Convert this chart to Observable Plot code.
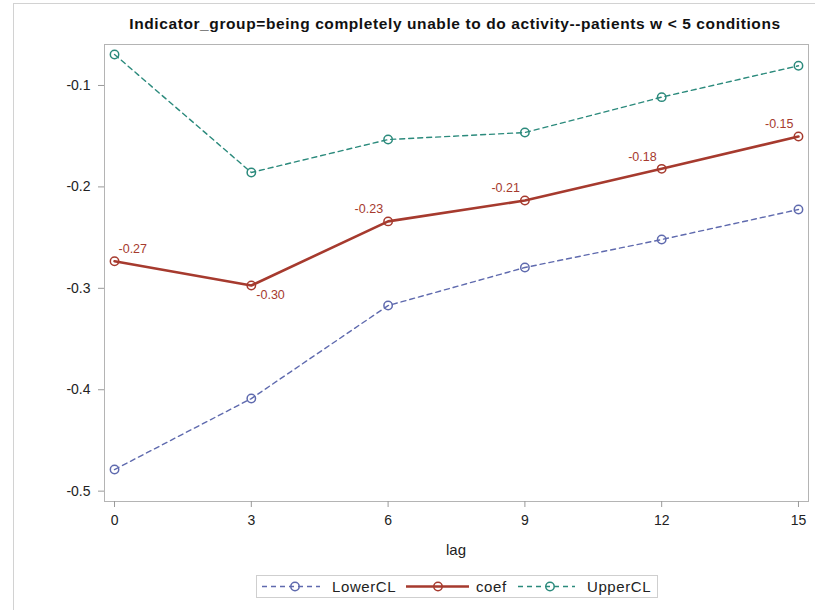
<!DOCTYPE html>
<html>
<head>
<meta charset="utf-8">
<script src="https://cdn.jsdelivr.net/npm/d3@7"></script>
<script src="https://cdn.jsdelivr.net/npm/@observablehq/plot@0.6"></script>
<style>
  body { margin: 0; background: #fff; }
  #chart { width: 815px; height: 610px; font-family: "Liberation Sans", Arial, sans-serif; }
</style>
</head>
<body>
<div id="chart"></div>
<script>
// Estimates by lag with 95% confidence limits
const lags    = [0, 3, 6, 9, 12, 15];
const lowerCL = [-0.4787, -0.4087, -0.3170, -0.2795, -0.2519, -0.2223];
const coef    = [-0.2733, -0.2972, -0.2340, -0.2134, -0.1822, -0.1503];
const upperCL = [-0.0694, -0.1858, -0.1533, -0.1464, -0.1115, -0.0806];

const seriesNames  = ["LowerCL", "coef", "UpperCL"];
const seriesValues = [lowerCL, coef, upperCL];
const seriesColors = ["#5f6aae", "#a63a2e", "#2b8a7c"];

const yTicks = [-0.5, -0.4, -0.3, -0.2, -0.1];
const xTicks = [0, 3, 6, 9, 12, 15];
const titleText = "Indicator_group=being completely unable to do activity--patients w < 5 conditions";
const xLabel = "lag";

// line styles: the limits are dashed and thin, the estimate is solid and thick
const styleOf = name => name === "coef"
  ? {strokeWidth: 2.6, strokeDasharray: null}
  : {strokeWidth: 1.4, strokeDasharray: "5,4"};

const rows = seriesNames.flatMap((name, s) =>
  lags.map((lag, i) => ({series: name, lag, value: seriesValues[s][i], idx: i})));
const coefRows = rows.filter(d => d.series === "coef");

// label placement around each estimate point
const isFirst = d => d.idx === 0;
const isLocalMin = d => d.idx > 0 && d.idx < coef.length - 1 &&
  coef[d.idx] < coef[d.idx - 1] && coef[d.idx] < coef[d.idx + 1];
const fmt2 = v => v.toFixed(2);

const marks = [Plot.frame({stroke: "#b4b4b4"})];
seriesNames.forEach((name, s) => {
  const data = rows.filter(d => d.series === name);
  const st = styleOf(name);
  marks.push(Plot.line(data, {x: "lag", y: "value", stroke: seriesColors[s],
    strokeWidth: st.strokeWidth, strokeDasharray: st.strokeDasharray}));
  marks.push(Plot.dot(data, {x: "lag", y: "value", r: 4.2, stroke: seriesColors[s],
    strokeWidth: 1.5, fill: "none"}));
});
const labelStyle = {x: "lag", y: "value", text: d => fmt2(d.value), fill: "#a63a2e",
  fontSize: 12.5, style: "letter-spacing:1px"};
marks.push(Plot.text(coefRows.filter(isFirst), {...labelStyle, textAnchor: "start", dx: 4, dy: -12}));
marks.push(Plot.text(coefRows.filter(isLocalMin), {...labelStyle, textAnchor: "start", dx: 5, dy: 10}));
marks.push(Plot.text(coefRows.filter(d => !isFirst(d) && !isLocalMin(d)),
  {...labelStyle, textAnchor: "end", dx: -5, dy: -12}));

marks.push(Plot.axisY({ticks: yTicks, tickFormat: d => d.toFixed(1), tickSize: 6,
  tickPadding: 8, stroke: "#9a9a9a", fontSize: 14, label: null}));
marks.push(Plot.axisX({ticks: xTicks, tickFormat: d => String(d), tickSize: 6,
  tickPadding: 8, stroke: "#9a9a9a", fontSize: 14, label: null}));

const svg = Plot.plot({
  width: 815,
  height: 610,
  marginLeft: 104,
  marginRight: 7,
  marginTop: 44,
  marginBottom: 109,
  style: {fontFamily: '"Liberation Sans", Arial, sans-serif', color: "#222", background: "#fff"},
  x: {domain: [-0.22, 15.22]},
  y: {domain: [-0.5102, -0.0596]},
  marks
});

const g = d3.select(svg);
// outer graph border
g.insert("rect", ":first-child")
  .attr("x", 13.5).attr("y", 3.5).attr("width", 900).attr("height", 700)
  .attr("fill", "none").attr("stroke", "#d2d2d2");

// title
g.append("text").attr("x", 455).attr("y", 29).attr("text-anchor", "middle")
  .attr("font-size", 15.5).attr("font-weight", "bold").attr("fill", "#111")
  .style("letter-spacing", "0.6px").text(titleText);

// axis label
g.append("text").attr("x", 456).attr("y", 555).attr("text-anchor", "middle")
  .attr("font-size", 15).attr("fill", "#222").text(xLabel);

// legend
const legend = g.append("g");
legend.append("rect").attr("x", 256.5).attr("y", 575.5).attr("width", 401).attr("height", 22)
  .attr("fill", "#fff").attr("stroke", "#cfcfcf");
const items = [
  {x0: 262, x1: 320, mx: 295, tx: 332},
  {x0: 406, x1: 469, mx: 438, tx: 476},
  {x0: 518, x1: 575, mx: 550, tx: 587}
];
seriesNames.forEach((name, s) => {
  const it = items[s];
  const st = styleOf(name);
  legend.append("line").attr("x1", it.x0).attr("x2", it.x1).attr("y1", 586.5).attr("y2", 586.5)
    .attr("stroke", seriesColors[s]).attr("stroke-width", st.strokeWidth)
    .attr("stroke-dasharray", st.strokeDasharray);
  legend.append("circle").attr("cx", it.mx).attr("cy", 586.5).attr("r", 4.2)
    .attr("fill", "none").attr("stroke", seriesColors[s]).attr("stroke-width", 1.5);
  legend.append("text").attr("x", it.tx).attr("y", 591.5).attr("font-size", 15)
    .attr("text-anchor", "start").attr("fill", "#222").style("letter-spacing", "0.6px").text(name);
});

document.getElementById("chart").appendChild(svg);
</script>
</body>
</html>
